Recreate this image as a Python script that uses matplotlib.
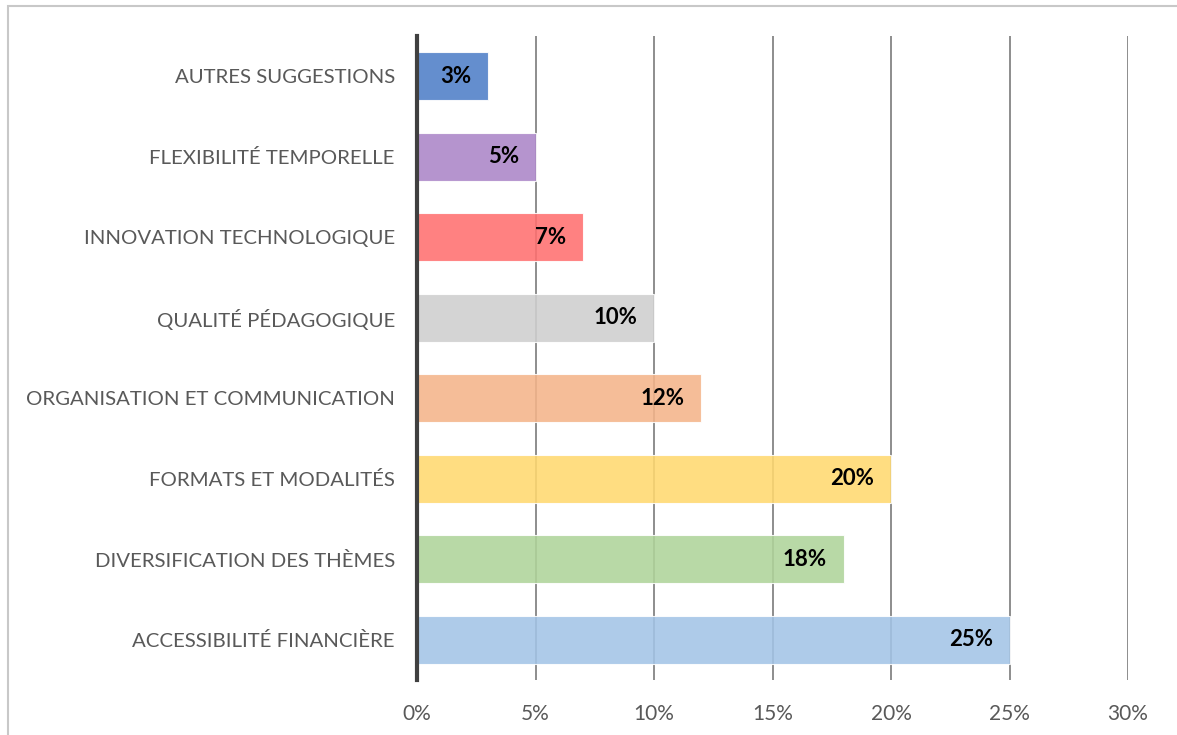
import matplotlib.pyplot as plt
from matplotlib.patches import Rectangle
from matplotlib.ticker import FuncFormatter

categories = ['ACCESSIBILITÉ FINANCIÈRE', 'DIVERSIFICATION DES THÈMES',
              'FORMATS ET MODALITÉS', 'ORGANISATION ET COMMUNICATION',
              'QUALITÉ PÉDAGOGIQUE', 'INNOVATION TECHNOLOGIQUE',
              'FLEXIBILITÉ TEMPORELLE', 'AUTRES SUGGESTIONS']
values = [25, 18, 20, 12, 10, 7, 5, 3]
colors = ['#a3c4e6', '#afd49a', '#ffd970', '#f4b48a', '#cfcfcf',
          '#ff7070', '#ab85c8', '#4f7ec8']

plt.rcParams['font.family'] = ['Lato', 'DejaVu Sans']

fig = plt.figure(figsize=(11.77, 7.35), dpi=100)
ax = fig.add_axes([417 / 1177, 1 - 680 / 735, 711 / 1177, 644 / 735])

# outer frame
fig.patches.append(Rectangle((8 / 1177, -0.1), 1.2, 1 - 6 / 735 + 0.1,
                             transform=fig.transFigure, fill=False,
                             edgecolor='#c8c8c8', linewidth=1.5))

y = range(len(categories))
ax.set_axisbelow(True)
ax.xaxis.grid(True, color='#858585', linewidth=1.3)
bars = ax.barh(y, values, height=0.6, color=colors, alpha=0.88,
               edgecolor='white', linewidth=0.8, zorder=2)

for b, v in zip(bars, values):
    ax.annotate(f'{v}%', (b.get_width(), b.get_y() + b.get_height() / 2),
                xytext=(-12, 0), textcoords='offset points',
                ha='right', va='center', fontsize=16, fontweight='bold',
                color='black', zorder=3)

ax.set_xlim(0, 30)
ax.set_ylim(-0.5, len(categories) - 0.5)
ax.set_xticks(range(0, 31, 5))
ax.xaxis.set_major_formatter(FuncFormatter(lambda v, p: f'{v:.0f}%'))
ax.set_yticks(list(y))
ax.set_yticklabels(categories)
ax.tick_params(length=0, colors='#595959')
ax.tick_params(axis='x', pad=17, labelsize=15)
ax.tick_params(axis='y', pad=16, labelsize=14.7)

for s in ['top', 'right', 'bottom']:
    ax.spines[s].set_visible(False)
ax.spines['left'].set_color('#404040')
ax.spines['left'].set_linewidth(3)
ax.spines['left'].set_zorder(4)

fig.savefig('out.png', dpi=100)
